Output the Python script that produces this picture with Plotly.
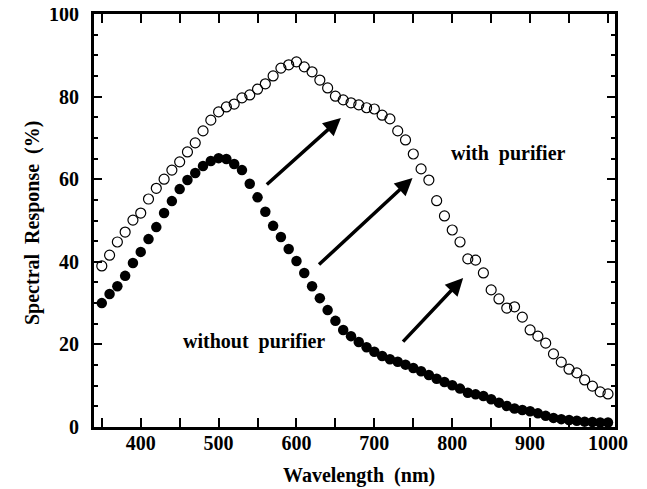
import plotly.graph_objects as go

wavelength = list(range(350, 1001, 10))

without_purifier = [
    30.0, 32.2, 34.1, 36.6, 39.7, 42.4, 45.5, 48.4, 51.8, 54.7,   # 350-440
    57.6, 59.8, 61.5, 63.2, 64.4, 65.1, 64.9, 63.7, 62.2, 58.9,   # 450-540
    55.6, 52.1, 48.7, 46.0, 43.1, 40.2, 37.3, 34.1, 31.2, 28.3,   # 550-640
    25.7, 23.5, 22.0, 20.6, 19.3, 18.2, 17.2, 16.4, 15.8, 15.1,   # 650-740
    14.3, 13.5, 12.6, 11.7, 10.9, 10.1, 9.3, 8.3, 7.9, 7.5,       # 750-840
    6.7, 5.9, 5.1, 4.5, 4.1, 3.8, 3.3, 2.7, 2.2, 1.9,             # 850-940
    1.7, 1.5, 1.3, 1.2, 1.1, 1.1,                                 # 950-1000
]

with_purifier = [
    39.0, 41.6, 44.8, 47.2, 50.1, 51.8, 55.2, 57.8, 60.0, 62.2,   # 350-440
    64.2, 66.6, 68.8, 71.7, 74.3, 76.3, 77.5, 78.2, 79.7, 80.4,   # 450-540
    81.8, 83.1, 85.0, 86.9, 87.7, 88.4, 87.2, 86.0, 84.0, 82.1,   # 550-640
    80.1, 79.2, 78.5, 78.0, 77.3, 77.0, 75.5, 74.6, 71.7, 69.5,   # 650-740
    66.1, 62.5, 59.8, 54.8, 51.1, 47.7, 44.8, 40.7, 40.4, 37.3,   # 750-840
    33.2, 31.0, 28.8, 29.1, 26.6, 23.5, 22.0, 20.3, 17.7, 15.7,   # 850-940
    14.0, 13.1, 11.4, 9.9, 8.5, 8.0,                              # 950-1000
]

x_tick_labels = ["400", "500", "600", "700", "800", "900", "1000"]
x_tick_vals = [400, 500, 600, 700, 800, 900, 1000]
y_tick_vals = [0, 20, 40, 60, 80, 100]

FONT = "Liberation Serif"

# target plot box in page pixels (page has an 8px body offset)
OFF = 8
PL, PR, PT, PB = 94, 615, 14, 427
W, H = 647, 489


def bfont(size=20):
    return dict(family=FONT, size=size, color="black", weight="bold")


def px_to_paper(px, py):
    return (px - PL) / (PR - PL), (PB - py) / (PB - PT)


fig = go.Figure()
fig.add_trace(go.Scatter(
    x=wavelength, y=with_purifier, mode="markers", name="with purifier",
    marker=dict(symbol="circle-open", size=10, color="black", line=dict(width=1.2, color="black")),
))
fig.add_trace(go.Scatter(
    x=wavelength, y=without_purifier, mode="markers", name="without purifier",
    marker=dict(symbol="circle", size=10.5, color="black"),
))

arrows = [
    (560, 58.4, 657, 74.8),
    (627, 39.0, 749, 60.3),
    (735, 20.3, 814, 36.1),
]
for x0, y0, x1, y1 in arrows:
    fig.add_annotation(
        x=x1, y=y1, ax=x0, ay=y0, xref="x", yref="y", axref="x", ayref="y",
        showarrow=True, arrowhead=2, arrowsize=1.0, arrowwidth=3.5, arrowcolor="black", text="",
    )

fig.add_annotation(x=872, y=66.3, xref="x", yref="y", showarrow=False,
                   xanchor="center", yanchor="middle",
                   text="with\u00a0\u00a0purifier", font=bfont(20))
fig.add_annotation(x=546, y=20.8, xref="x", yref="y", showarrow=False,
                   xanchor="center", yanchor="middle",
                   text="without\u00a0\u00a0purifier", font=bfont(20))

ax_, ay_ = px_to_paper(359, 475)
fig.add_annotation(x=ax_, y=ay_, xref="paper", yref="paper", showarrow=False,
                   xanchor="center", yanchor="middle",
                   text="Wavelength\u00a0\u00a0(nm)", font=bfont(20))
ax_, ay_ = px_to_paper(33, 223)
fig.add_annotation(x=ax_, y=ay_, xref="paper", yref="paper", showarrow=False,
                   xanchor="center", yanchor="middle", textangle=-90,
                   text="Spectral\u00a0\u00a0Response\u00a0\u00a0(%)", font=bfont(20))

fig.update_layout(
    width=W, height=H,
    margin=dict(l=PL - OFF, r=W - PR + OFF, t=PT - OFF, b=H - PB + OFF),
    plot_bgcolor="white", paper_bgcolor="white",
    showlegend=False,
    font=bfont(20),
)
fig.update_xaxes(
    range=[340, 1009], tickvals=x_tick_vals, ticktext=x_tick_labels,
    showgrid=False, zeroline=False, automargin=False,
    showline=True, linewidth=3, linecolor="black", mirror="allticks",
    ticks="inside", ticklen=9, tickwidth=2, tickcolor="black",
    minor=dict(dtick=50, tick0=350, ticks="inside", ticklen=9, tickwidth=2, tickcolor="black", showgrid=False),
    tickfont=bfont(20),
    ticklabelstandoff=-4, ticklabeloverflow="allow",
)
fig.update_yaxes(
    range=[0, 100], tickvals=y_tick_vals,
    showgrid=False, zeroline=False, automargin=False,
    showline=True, linewidth=3, linecolor="black", mirror="allticks",
    ticks="inside", ticklen=8, tickwidth=2, tickcolor="black",
    minor=dict(dtick=5, tick0=0, ticks="inside", ticklen=4, tickwidth=2, tickcolor="black", showgrid=False),
    tickfont=bfont(20),
    ticklabelstandoff=8, ticklabeloverflow="allow",
)

fig.write_html("out.html")
